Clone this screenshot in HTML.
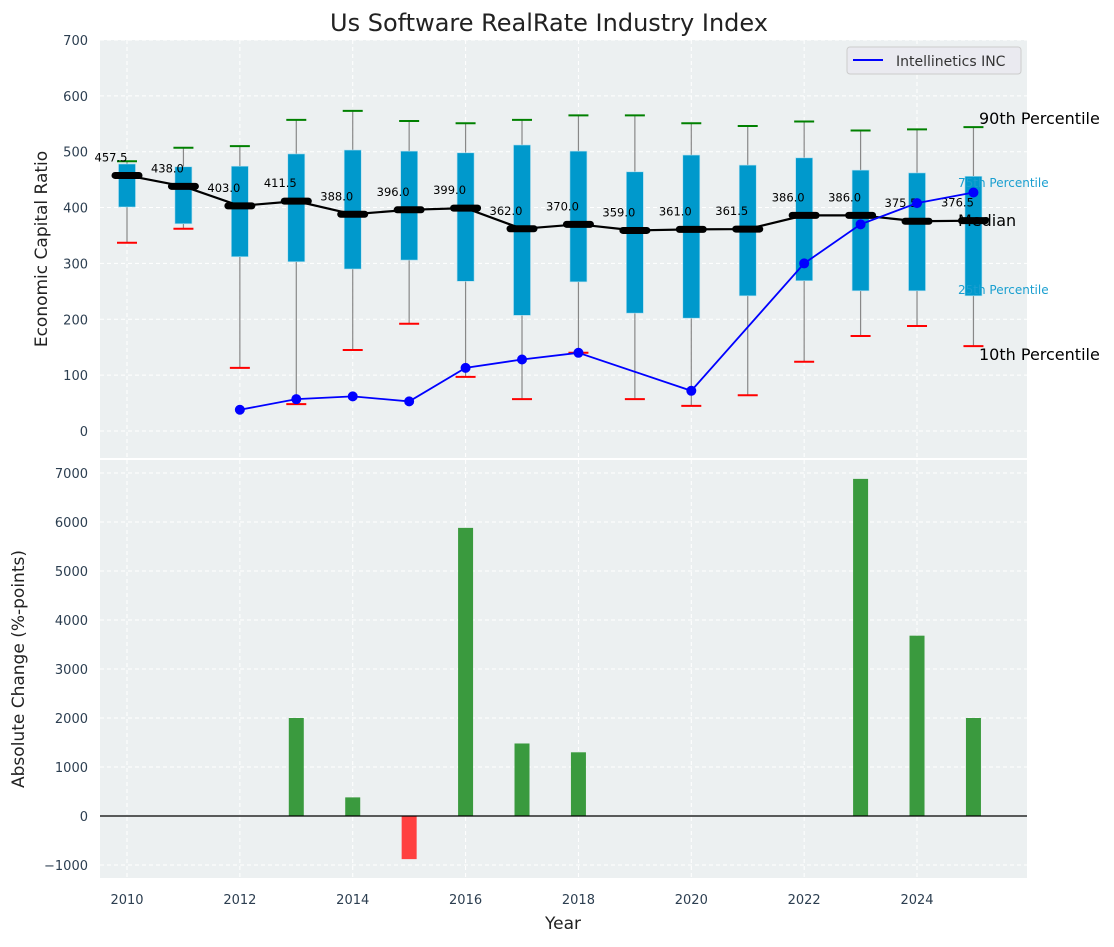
<!DOCTYPE html>
<html><head><meta charset="utf-8"><style>
body{margin:0;background:#fff}
svg{font-family:"DejaVu Sans","Liberation Sans",sans-serif}
</style></head><body>
<svg id="c" width="1114" height="942" xmlns="http://www.w3.org/2000/svg"></svg>
<script>
const years=[2010,2011,2012,2013,2014,2015,2016,2017,2018,2019,2020,2021,2022,2023,2024,2025];
const p90=[483,507,510,557,573,555,551,557,565,565,551,546,554,538,540,544];
const q3=[478,473,474,496,503,501,498,512,501,464,494,476,489,467,462,456];
const q1=[401,371,312,303,290,306,268,207,267,211,202,242,269,251,251,242];
const p10=[337,362,113,48,145,192,97,57,140,57,45,64,124,170,188,152];
const medians=[457.5,438,403,411.5,388,396,399,362,370,359,361,361.5,386,386,375.5,376.5];
const compYears=[2012,2013,2014,2015,2016,2017,2018,2020,2022,2023,2024,2025];
const compVals=[38,57,62,53,113,128,140,72,300,370,408,427];
const chgYears=[2013,2014,2015,2016,2017,2018,2023,2024,2025];
const chgVals=[2000,380,-880,5880,1480,1300,6880,3680,2000];
const topTicks=[0,100,200,300,400,500,600,700];
const botTicks=[-1000,0,1000,2000,3000,4000,5000,6000,7000];
const xTicks=[2010,2012,2014,2016,2018,2020,2022,2024];

const NS="http://www.w3.org/2000/svg";
const svg=document.getElementById('c');
function el(t,a,p){const e=document.createElementNS(NS,t);for(const k in a)e.setAttribute(k,a[k]);(p||svg).appendChild(e);return e;}
const L=100,R=1027;
const x=v=>127+(v-2010)*56.43;
const yT=v=>431-v*0.5586;
const yB=v=>816-v*0.049;

let bg1=el('rect',{x:L,y:40,width:R-L,height:418,fill:'#ecf0f1'});


let bg2=el('rect',{x:L,y:460,width:R-L,height:418,fill:'#ecf0f1'});



xTicks.forEach(t=>{
 el('line',{x1:x(t),x2:x(t),y1:40,y2:458,stroke:'#fff','stroke-dasharray':'4,3'});
 el('line',{x1:x(t),x2:x(t),y1:460,y2:878,stroke:'#fff','stroke-dasharray':'4,3'});
 const tx=el('text',{x:x(t),y:904,'font-size':13,fill:'#2c3e50','text-anchor':'middle'});tx.textContent=t;
 
 
});
topTicks.forEach(t=>{
 el('line',{x1:L,x2:R,y1:yT(t),y2:yT(t),stroke:'#fff','stroke-dasharray':'4,3'});
 const tx=el('text',{x:88,y:yT(t)+5,'font-size':13,fill:'#2c3e50','text-anchor':'end'});tx.textContent=t;
 
 
});
botTicks.forEach(t=>{
 el('line',{x1:L,x2:R,y1:yB(t),y2:yB(t),stroke:'#fff','stroke-dasharray':'4,3'});
 const tx=el('text',{x:88,y:yB(t)+5,'font-size':13,fill:'#2c3e50','text-anchor':'end'});tx.textContent=(t<0?'\u2212'+(-t):t);
 
 
});

years.forEach((yr,i)=>{
 const cx=x(yr);
 let w=el('line',{x1:cx,x2:cx,y1:yT(p90[i]),y2:yT(p10[i]),stroke:'#888','stroke-width':1.2});
 
 
 let b=el('rect',{x:cx-8.5,y:yT(q3[i]),width:17,height:yT(q1[i])-yT(q3[i]),fill:'#0099cc',stroke:'#b0dff0','stroke-width':0.6});
 
 
 let g=el('line',{x1:cx-10,x2:cx+10,y1:yT(p90[i]),y2:yT(p90[i]),stroke:'green','stroke-width':2});
 
 
 let r=el('line',{x1:cx-10,x2:cx+10,y1:yT(p10[i]),y2:yT(p10[i]),stroke:'red','stroke-width':2});
 
 
});
let mp=el('polyline',{points:years.map((yr,i)=>x(yr)+','+yT(medians[i])).join(' '),fill:'none',stroke:'#000','stroke-width':2.2});


years.forEach((yr,i)=>{
 let m=el('line',{x1:x(yr)-12,x2:x(yr)+12,y1:yT(medians[i]),y2:yT(medians[i]),stroke:'#000','stroke-width':7,'stroke-linecap':'round'});
 
 
 let t=el('text',{x:x(yr)-16,y:yT(medians[i])-14,'font-size':11.5,fill:'#000','text-anchor':'middle'});
 t.textContent=medians[i].toFixed(1);
 
 
});
let cl=el('polyline',{points:compYears.map((yr,i)=>x(yr)+','+yT(compVals[i])).join(' '),fill:'none',stroke:'blue','stroke-width':1.8});


compYears.forEach((yr,i)=>{
 let c=el('circle',{cx:x(yr),cy:yT(compVals[i]),r:5,fill:'blue'});
 
 
});
const ann=[['90th Percentile',979,124,16,'#000'],['75th Percentile',958,187,12,'#1a9fd0'],['Median',958,226,16,'#000'],['25th Percentile',958,294,12,'#1a9fd0'],['10th Percentile',979,360,16,'#000']];
ann.forEach(a=>{let t=el('text',{x:a[1],y:a[2],'font-size':a[3],fill:a[4]});t.textContent=a[0];
 
 });
let lg=el('g',{});


el('rect',{x:847,y:47,width:174,height:27,rx:3,fill:'#eaeaf0',stroke:'#ccc'},lg);
el('line',{x1:853,x2:883,y1:60,y2:60,stroke:'blue','stroke-width':2},lg);
let lt=el('text',{x:896,y:66,'font-size':14,fill:'#333'},lg);lt.textContent='Intellinetics INC';

chgYears.forEach((yr,i)=>{
 const v=chgVals[i];const y0=yB(Math.max(v,0)),y1=yB(Math.min(v,0));
 let b=el('rect',{x:x(yr)-7.5,y:y0,width:15,height:y1-y0,fill:v>=0?'#3a9a3e':'#ff4040'});
 
 
});
el('line',{x1:L,x2:R,y1:yB(0),y2:yB(0),stroke:'#000','stroke-width':1.2});

let ti=el('text',{x:549,y:31,'font-size':24,fill:'#222','text-anchor':'middle'});ti.textContent='Us Software RealRate Industry Index';

let xl=el('text',{x:563,y:929,'font-size':17,fill:'#222','text-anchor':'middle'});xl.textContent='Year';

let y1=el('text',{x:47,y:249,'font-size':17,fill:'#222','text-anchor':'middle',transform:'rotate(-90 47 249)'});y1.textContent='Economic Capital Ratio';

let y2=el('text',{x:24,y:669,'font-size':17,fill:'#222','text-anchor':'middle',transform:'rotate(-90 24 669)'});y2.textContent='Absolute Change (%-points)';

</script>
</body></html>
